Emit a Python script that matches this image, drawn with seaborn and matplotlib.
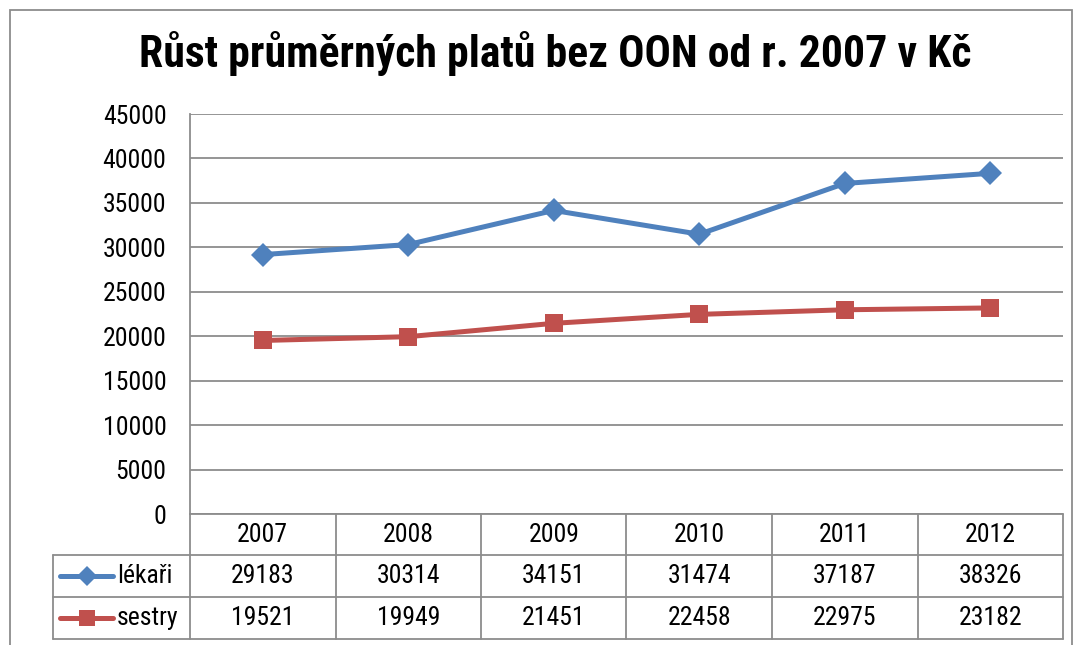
import matplotlib
matplotlib.use("Agg")
import matplotlib.pyplot as plt
from matplotlib import font_manager
from matplotlib.lines import Line2D
from matplotlib.patches import Rectangle
import seaborn as sns
import pandas as pd

years = ["2007", "2008", "2009", "2010", "2011", "2012"]
lekari = [29183, 30314, 34151, 31474, 37187, 38326]
sestry = [19521, 19949, 21451, 22458, 22975, 23182]
series_names = ["lékaři", "sestry"]
title = "Růst průměrných platů bez OON od r. 2007 v Kč"
yticks = [0, 5000, 10000, 15000, 20000, 25000, 30000, 35000, 40000, 45000]

sns.set_theme(style="white")
names = {f.name for f in font_manager.fontManager.ttflist}
fam = "Roboto Condensed" if "Roboto Condensed" in names else "Liberation Sans"
plt.rcParams["font.family"] = [fam, "DejaVu Sans"]
plt.rcParams["text.color"] = "black"
plt.rcParams["ytick.color"] = "black"
plt.rcParams["ytick.labelcolor"] = "black"

W, H = 1082, 645
fig = plt.figure(figsize=(W / 100, H / 100), dpi=100)

def fx(px):
    return px / W

def fy(py):
    return 1 - py / H

colors = {"lékaři": "#4F81BD", "sestry": "#C0504D"}
markers = {"lékaři": "D", "sestry": "s"}
msize = {"lékaři": 12, "sestry": 13}

left, right, top, bottom = 190, 1063, 114, 514
ax = fig.add_axes([fx(left), fy(bottom), fx(right - left), (bottom - top) / H])

df = pd.DataFrame({
    "x": list(range(len(years))) * 2,
    "v": lekari + sestry,
    "s": [series_names[0]] * len(years) + [series_names[1]] * len(years),
})
for name in series_names:
    sub = df[df["s"] == name]
    sns.lineplot(data=sub, x="x", y="v", ax=ax, color=colors[name], marker=markers[name],
                 markersize=msize[name], markeredgewidth=0, linewidth=3.6, legend=False)

ax.set_xlim(-0.5, len(years) - 0.5)
ax.set_ylim(0, 45000)
ax.set_yticks(yticks)
tfs = 18.5
ax.set_yticklabels([str(t) for t in yticks], fontsize=tfs, fontweight="normal", color="black")
ax.tick_params(axis="y", length=0, pad=17)
ax.set_xticks([])
ax.set_xlabel("")
ax.set_ylabel("")
ax.grid(axis="y", color="#8C8C8C", linewidth=1.3)
ax.set_axisbelow(True)
for s in ["top", "right", "bottom"]:
    ax.spines[s].set_visible(False)
ax.spines["left"].set_color("#8C8C8C")
ax.spines["left"].set_linewidth(1.3)

# outer chart border
fig.patches.append(Rectangle((fx(10), fy(660)), fx(1072 - 10), (660 - 10) / H,
                             transform=fig.transFigure, fill=False,
                             edgecolor="#8C8C8C", linewidth=1.3))

fig.text(fx(555), fy(53), title, ha="center", va="center", fontsize=31.5, fontweight="bold",
         color="black")

# data table
gc = "#8C8C8C"
rows_y = [514, 555, 597, 639]
col_x = [left + i * (right - left) / len(years) for i in range(len(years) + 1)]
tleft = 53

def hline(y, x0, x1):
    fig.add_artist(Line2D([fx(x0), fx(x1)], [fy(y), fy(y)], color=gc, linewidth=1.3,
                          transform=fig.transFigure))

def vline(x, y0, y1):
    fig.add_artist(Line2D([fx(x), fx(x)], [fy(y0), fy(y1)], color=gc, linewidth=1.3,
                          transform=fig.transFigure))

hline(rows_y[0], left, right)
for y in rows_y[1:]:
    hline(y, tleft, right)
for x in col_x:
    vline(x, rows_y[0], rows_y[-1])
vline(tleft, rows_y[1], rows_y[-1])

for i, yr in enumerate(years):
    cx = (col_x[i] + col_x[i + 1]) / 2
    fig.text(fx(cx), fy((rows_y[0] + rows_y[1]) / 2), yr, ha="center", va="center",
             fontsize=tfs, fontweight="normal")
for r, (name, vals) in enumerate(zip(series_names, [lekari, sestry])):
    cy = (rows_y[r + 1] + rows_y[r + 2]) / 2
    for i, v in enumerate(vals):
        cx = (col_x[i] + col_x[i + 1]) / 2
        fig.text(fx(cx), fy(cy), str(v), ha="center", va="center", fontsize=tfs,
                 fontweight="normal")
    fig.add_artist(Line2D([fx(60), fx(113)], [fy(cy), fy(cy)], color=colors[name],
                          linewidth=3.6, transform=fig.transFigure))
    fig.add_artist(Line2D([fx(86.5)], [fy(cy)], color=colors[name], marker=markers[name],
                          markersize=msize[name] * 0.85, markeredgewidth=0,
                          transform=fig.transFigure))
    fig.text(fx(117), fy(cy), name, ha="left", va="center", fontsize=tfs, fontweight="normal")

fig.savefig("out.png", dpi=100)
